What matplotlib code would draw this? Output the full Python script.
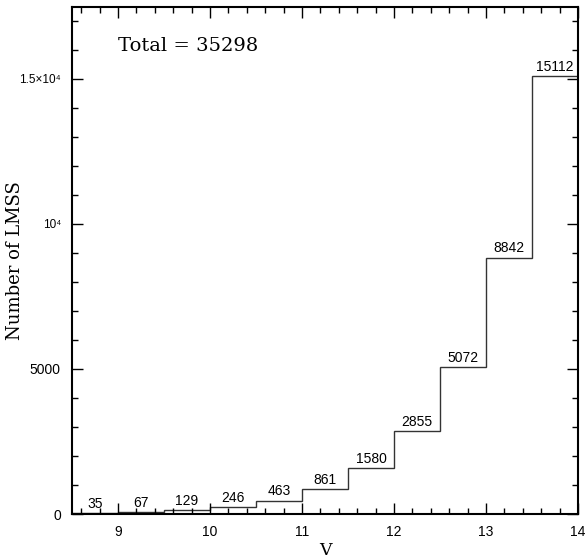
import matplotlib
matplotlib.use('Agg')
import matplotlib.pyplot as plt
from matplotlib.ticker import MultipleLocator, FixedLocator, FixedFormatter
import numpy as np

# 数据
bin_edges = [8.5, 9.0, 9.5, 10.0, 10.5, 11.0, 11.5, 12.0, 12.5, 13.0, 13.5, 14.0]
counts = [35, 67, 129, 246, 463, 861, 1580, 2855, 5072, 8842, 15112]
total_text = 'Total = 35298'
ytick_vals = [0, 5000, 10000, 15000]
ytick_labels = ['0', '5000', '10⁴', '1.5×10⁴']
xtick_vals = [9, 10, 11, 12, 13, 14]

sans = ['Liberation Sans', 'DejaVu Sans']
serif = ['DejaVu Serif']

fig = plt.figure(figsize=(5.85, 5.59), dpi=100)
ax = fig.add_axes([0.123, 0.0805, 0.865, 0.907])

# 阶梯直方图
ax.stairs(counts, bin_edges, color='#333333', linewidth=1.0)

# 每个柱子上方的数字
edges = np.array(bin_edges)
centers = (edges[:-1] + edges[1:]) / 2
for c, n in zip(centers, counts):
    ax.annotate(str(n), (c, n), xytext=(0, 1.5), textcoords='offset points',
                ha='center', va='bottom', fontsize=10, family=sans)

ax.text(9.0, 16150, total_text, fontsize=14, family=serif, va='center', ha='left')

ax.set_xlim(8.5, 14)
ax.set_ylim(0, 17480)

ax.xaxis.set_major_locator(FixedLocator(xtick_vals))
ax.xaxis.set_minor_locator(MultipleLocator(0.2))
ax.yaxis.set_major_locator(FixedLocator(ytick_vals))
ax.yaxis.set_major_formatter(FixedFormatter(ytick_labels))
ax.yaxis.set_minor_locator(MultipleLocator(1000))

ax.tick_params(which='both', direction='in', top=True, right=True, width=1.0)
ax.tick_params(which='major', length=8, pad=8, labelsize=10)
ax.tick_params(which='minor', length=4)
for lab in ax.get_xticklabels() + ax.get_yticklabels():
    lab.set_family(sans)
for lab in ax.get_yticklabels():
    if '⁴' in lab.get_text():
        lab.set_fontsize(8.5)

for s in ax.spines.values():
    s.set_linewidth(1.5)

ax.set_xlabel('V', fontsize=12.5, family=serif, va='center')
ax.xaxis.set_label_coords(0.5, -0.072)
ax.set_ylabel('Number of LMSS', fontsize=13, family=serif, va='center')
ax.yaxis.set_label_coords(-0.112, 0.5)

plt.savefig('out.png', dpi=100)
plt.close()
